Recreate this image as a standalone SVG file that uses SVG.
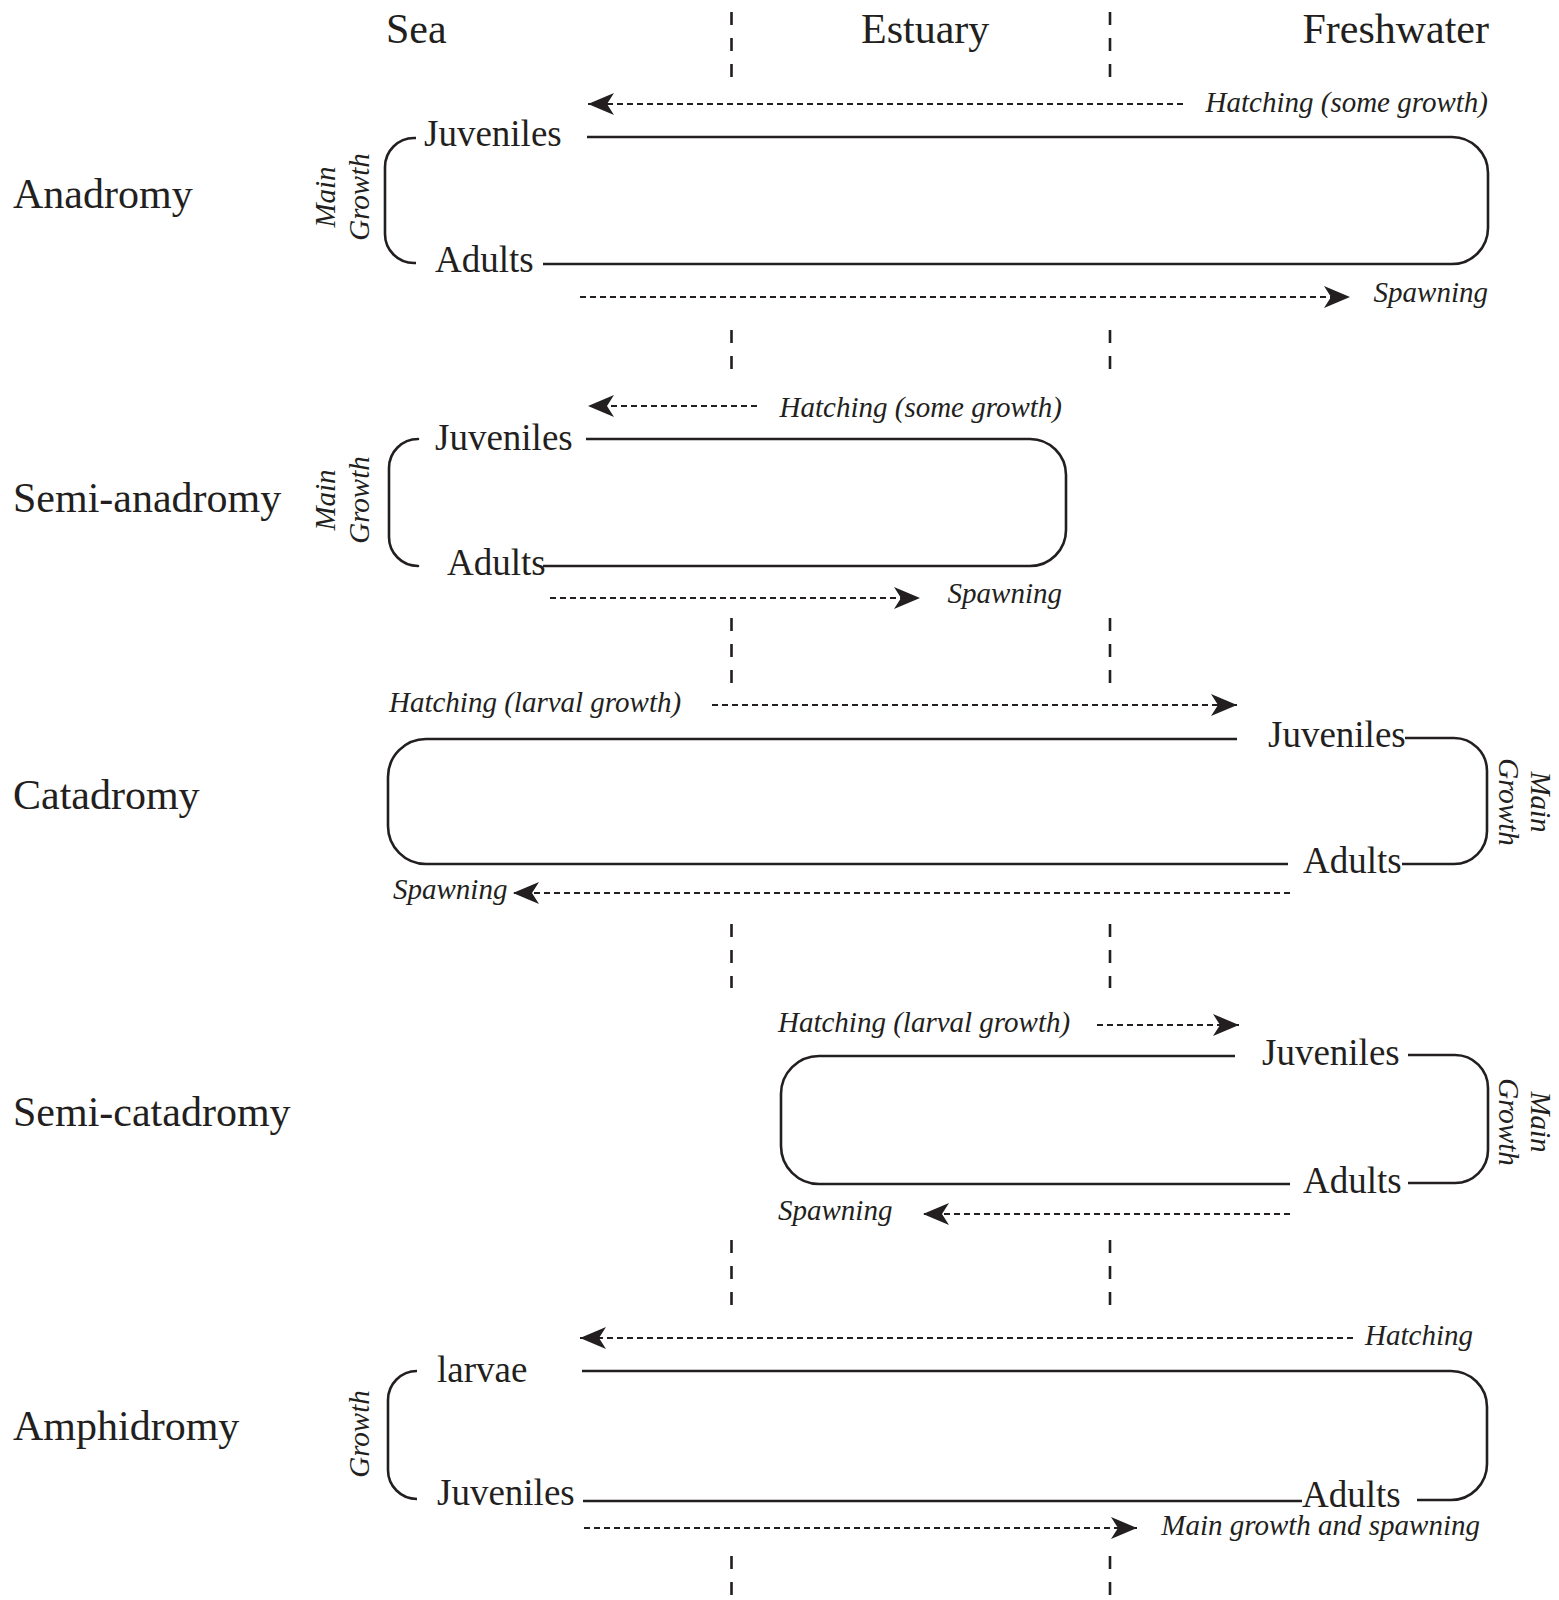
<svg xmlns="http://www.w3.org/2000/svg" width="1559" height="1600" viewBox="0 0 1559 1600">
<style>
text{font-family:"Liberation Serif","Times New Roman",serif;fill:#231f20}
.hd{font-size:42px}
.row{font-size:42px}
.st{font-size:37px}
.it{font-size:29px;font-style:italic}
.loop{fill:none;stroke:#231f20;stroke-width:2.6;stroke-linecap:butt;stroke-linejoin:round}
.arr{fill:none;stroke:#231f20;stroke-width:2;stroke-dasharray:6 4;marker-end:url(#ah)}
.zone{fill:none;stroke:#231f20;stroke-width:2.6;stroke-dasharray:13 13}
</style>
<defs>
<marker id="ah" markerUnits="userSpaceOnUse" markerWidth="28" markerHeight="24" refX="26" refY="11" orient="auto">
<path d="M0,0 L26,11 L0,22 L7,11 Z" fill="#231f20"/>
</marker>
</defs>
<rect width="1559" height="1600" fill="#fff"/>

<g id="zones">
<text class="hd" x="386" y="43">Sea</text>
<text class="hd" x="861" y="43">Estuary</text>
<text class="hd" x="1489" y="43" text-anchor="end">Freshwater</text>
<path class="zone" d="M731.5,12V78M1110,12V78M731.5,330V374M1110,330V374M731.5,618V684M1110,618V684M731.5,924V988M1110,924V988M731.5,1240V1306M1110,1240V1306M731.5,1556V1600M1110,1556V1600"/>
</g>

<g id="row-labels">
<text class="row" x="13" y="208">Anadromy</text>
<text class="row" x="13" y="512">Semi-anadromy</text>
<text class="row" x="13" y="809">Catadromy</text>
<text class="row" x="13" y="1126">Semi-catadromy</text>
<text class="row" x="13" y="1440">Amphidromy</text>
</g>

<g id="anadromy-nodes">
<text class="st" x="424" y="146">Juveniles</text>
<text class="st" x="435" y="272">Adults</text>
<text class="it" transform="translate(335,197) rotate(-90)" text-anchor="middle">Main</text>
<text class="it" transform="translate(369,197) rotate(-90)" text-anchor="middle">Growth</text>
<text class="it" x="1488" y="112" text-anchor="end">Hatching (some growth)</text>
<text class="it" x="1488" y="302" text-anchor="end">Spawning</text>
</g>

<g id="semi-anadromy-nodes">
<text class="st" x="435" y="450">Juveniles</text>
<text class="st" x="447" y="575">Adults</text>
<text class="it" transform="translate(335,500) rotate(-90)" text-anchor="middle">Main</text>
<text class="it" transform="translate(369,500) rotate(-90)" text-anchor="middle">Growth</text>
<text class="it" x="1062" y="417" text-anchor="end">Hatching (some growth)</text>
<text class="it" x="1062" y="603" text-anchor="end">Spawning</text>
</g>

<g id="catadromy-nodes">
<text class="st" x="1268" y="747">Juveniles</text>
<text class="st" x="1303" y="873">Adults</text>
<text class="it" transform="translate(1531,802) rotate(90)" text-anchor="middle">Main</text>
<text class="it" transform="translate(1499,802) rotate(90)" text-anchor="middle">Growth</text>
<text class="it" x="389" y="712">Hatching (larval growth)</text>
<text class="it" x="393" y="899">Spawning</text>
</g>

<g id="semi-catadromy-nodes">
<text class="st" x="1262" y="1065">Juveniles</text>
<text class="st" x="1303" y="1193">Adults</text>
<text class="it" transform="translate(1531,1122) rotate(90)" text-anchor="middle">Main</text>
<text class="it" transform="translate(1499,1122) rotate(90)" text-anchor="middle">Growth</text>
<text class="it" x="778" y="1032">Hatching (larval growth)</text>
<text class="it" x="778" y="1220">Spawning</text>
</g>

<g id="amphidromy-nodes">
<text class="st" x="437" y="1382">larvae</text>
<text class="st" x="437" y="1505">Juveniles</text>
<text class="st" x="1302" y="1507">Adults</text>
<text class="it" transform="translate(369,1434) rotate(-90)" text-anchor="middle">Growth</text>
<text class="it" x="1473" y="1345" text-anchor="end">Hatching</text>
<text class="it" x="1480" y="1535" text-anchor="end">Main growth and spawning</text>
</g>

<g id="connectors">
<!-- Anadromy -->
<path class="loop" d="M416,138H414A29,29 0 0 0 385,167V234A29,29 0 0 0 414,263H416"/>
<path class="loop" d="M587,137H1452A36,36 0 0 1 1488,173V228A36,36 0 0 1 1452,264H543"/>
<path class="arr" d="M1183,104H588"/>
<path class="arr" d="M580,297H1350"/>
<!-- Semi-anadromy -->
<path class="loop" d="M417,439H418A29,29 0 0 0 389,468V537A29,29 0 0 0 418,566H417"/>
<path class="loop" d="M586,439H1030A36,36 0 0 1 1066,475V530A36,36 0 0 1 1030,566H543"/>
<path class="arr" d="M757,406H588"/>
<path class="arr" d="M550,598H920"/>
<!-- Catadromy -->
<path class="loop" d="M1237,739H426A38,38 0 0 0 388,777V826A38,38 0 0 0 426,864H1288"/>
<path class="loop" d="M1405,738H1454A33,33 0 0 1 1487,771V831A33,33 0 0 1 1454,864H1402"/>
<path class="arr" d="M712,705H1237"/>
<path class="arr" d="M1290,893H513"/>
<!-- Semi-catadromy -->
<path class="loop" d="M1235,1056H819A38,38 0 0 0 781,1094V1146A38,38 0 0 0 819,1184H1290"/>
<path class="loop" d="M1408,1055H1455A33,33 0 0 1 1488,1088V1150A33,33 0 0 1 1455,1183H1408"/>
<path class="arr" d="M1097,1025H1239"/>
<path class="arr" d="M1290,1214H923"/>
<!-- Amphidromy -->
<path class="loop" d="M417,1371H417A29,29 0 0 0 388,1400V1470A29,29 0 0 0 417,1499H417"/>
<path class="loop" d="M582,1371H1451A36,36 0 0 1 1487,1407V1464A36,36 0 0 1 1451,1500H1417"/>
<path class="loop" d="M583,1501H1302"/>
<path class="arr" d="M1353,1338H580"/>
<path class="arr" d="M584,1528H1137"/>
</g>
</svg>
